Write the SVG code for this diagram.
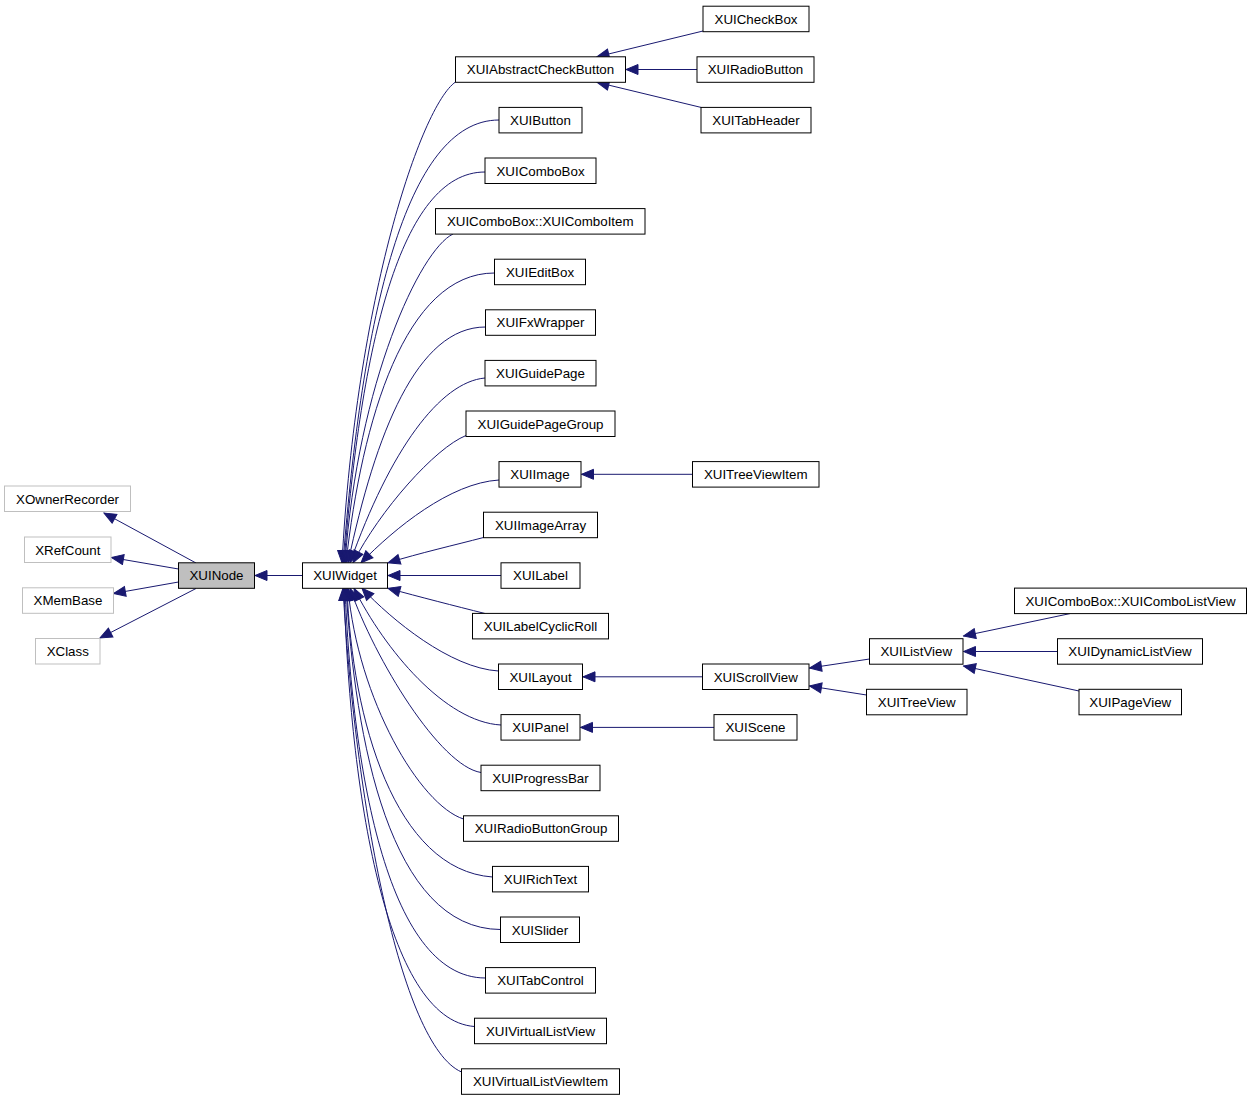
<svg xmlns="http://www.w3.org/2000/svg" width="1252" height="1101" viewBox="0 0 1252 1101">
<style>
.n rect{fill:#fff;stroke:#000;stroke-width:1}
.g rect{fill:#fff;stroke:#bfbfbf;stroke-width:1}
.c rect{fill:#bfbfbf;stroke:#000;stroke-width:1}
text{font-family:"Liberation Sans",Arial,Helvetica,sans-serif;font-size:13.33px;text-anchor:middle;fill:#000}
#edges path{fill:none;stroke:#191970;stroke-width:1;marker-end:url(#a)}
</style>
<defs>
<marker id="a" markerUnits="userSpaceOnUse" markerWidth="14" markerHeight="12" viewBox="-1 -1 14 12" refX="12" refY="5" orient="auto">
<path d="M0,0 L12,5 L0,10 z" fill="#191970" stroke="#191970"/>
</marker>
</defs>
<rect width="1252" height="1101" fill="#fff"/>
<g id="edges">
<path d="M196,563 L104,513"/>
<path d="M178.5,569 L111.5,557.5"/>
<path d="M178.5,582 L113.5,593.5"/>
<path d="M196,588.5 L100,638"/>
<path d="M302.5,575.5 L255,575.5"/>
<path d="M455.5,82 C421,106 356,298 342,562.8"/>
<path d="M499,120 C405,120 362,319 343,562.8"/>
<path d="M485,172 C400,172 361,347 344,562.8"/>
<path d="M453,234 C420,250 358,382 345,562.8"/>
<path d="M494.5,273 C405,273 362,420 346,562.8"/>
<path d="M485.5,327 C417,327 375.6,433 348,562.8"/>
<path d="M485,378 C440,382 390,450 350,562.8"/>
<path d="M466,435.5 C435,448 380,510 353,562.8"/>
<path d="M499,480 C450,483 395,528 361,562.8"/>
<path d="M483.5,537.5 C455,545 420,553 388,562.8"/>
<path d="M501,575.5 L388,575.5"/>
<path d="M485,613.5 C455,606 420,597 388,588.3"/>
<path d="M498.5,671 C450,668 392,620 362,588.3"/>
<path d="M501,725 C445,722 385,650 354,588.3"/>
<path d="M481,772.5 C440,766 375,660 350,588.3"/>
<path d="M463.5,819 C420,805 358,700 348,588.3"/>
<path d="M492.5,877 C395,870 352,720 347,588.3"/>
<path d="M500.5,929.5 C390,929 355,740 346,588.3"/>
<path d="M485.5,978 C385,978 352,760 345,588.3"/>
<path d="M474.5,1026.5 C385,1020 350,790 344,588.3"/>
<path d="M461.5,1072 C400,1045 355,800 343,588.3"/>
<path d="M703,31 L597,56.8"/>
<path d="M697,69.5 L626,69.5"/>
<path d="M701,107.4 L597,82.3"/>
<path d="M692.5,474.3 L581.5,474.3"/>
<path d="M702.5,676.8 L583,676.8"/>
<path d="M714,727.4 L580.5,727.4"/>
<path d="M869.5,659 L809.5,668"/>
<path d="M866.5,695 L809.5,686"/>
<path d="M1070,613.6 L963.5,636"/>
<path d="M1057.5,651.5 L963.5,651.5"/>
<path d="M1079,691 L963.5,666"/>
</g>
<g id="XOwnerRecorder" class="g"><rect x="4.5" y="486" width="126" height="25.5"/><text x="67.5" y="503.5">XOwnerRecorder</text></g>
<g id="XRefCount" class="g"><rect x="24.5" y="537" width="86.5" height="25.5"/><text x="67.75" y="554.5">XRefCount</text></g>
<g id="XMemBase" class="g"><rect x="22.5" y="587.8" width="91" height="25.5"/><text x="68" y="605.3">XMemBase</text></g>
<g id="XClass" class="g"><rect x="35.5" y="638.5" width="64.5" height="25.5"/><text x="67.75" y="656">XClass</text></g>
<g id="XUINode" class="c"><rect x="178.5" y="562.8" width="76" height="25.5"/><text x="216.5" y="580.3">XUINode</text></g>
<g id="XUIWidget" class="n"><rect x="302.5" y="562.8" width="85" height="25.5"/><text x="345" y="580.3">XUIWidget</text></g>
<g id="XUIAbstractCheckButton" class="n"><rect x="455.5" y="56.8" width="170" height="25.5"/><text x="540.5" y="74.3">XUIAbstractCheckButton</text></g>
<g id="XUIButton" class="n"><rect x="499" y="107.4" width="83" height="25.5"/><text x="540.5" y="124.9">XUIButton</text></g>
<g id="XUIComboBox" class="n"><rect x="485" y="158" width="111" height="25.5"/><text x="540.5" y="175.5">XUIComboBox</text></g>
<g id="XUIComboItem" class="n"><rect x="435.5" y="208.6" width="209.5" height="25.5"/><text x="540.25" y="226.1">XUIComboBox::XUIComboItem</text></g>
<g id="XUIEditBox" class="n"><rect x="494.5" y="259.2" width="91" height="25.5"/><text x="540" y="276.7">XUIEditBox</text></g>
<g id="XUIFxWrapper" class="n"><rect x="485.5" y="309.8" width="110" height="25.5"/><text x="540.5" y="327.3">XUIFxWrapper</text></g>
<g id="XUIGuidePage" class="n"><rect x="485" y="360.4" width="111" height="25.5"/><text x="540.5" y="377.9">XUIGuidePage</text></g>
<g id="XUIGuidePageGroup" class="n"><rect x="466" y="411" width="149" height="25.5"/><text x="540.5" y="428.5">XUIGuidePageGroup</text></g>
<g id="XUIImage" class="n"><rect x="499" y="461.6" width="82" height="25.5"/><text x="540" y="479.1">XUIImage</text></g>
<g id="XUIImageArray" class="n"><rect x="483.5" y="512.2" width="114" height="25.5"/><text x="540.5" y="529.7">XUIImageArray</text></g>
<g id="XUILabel" class="n"><rect x="501" y="562.8" width="79" height="25.5"/><text x="540.5" y="580.3">XUILabel</text></g>
<g id="XUILabelCyclicRoll" class="n"><rect x="472.5" y="613.4" width="136" height="25.5"/><text x="540.5" y="630.9">XUILabelCyclicRoll</text></g>
<g id="XUILayout" class="n"><rect x="498.5" y="664" width="84" height="25.5"/><text x="540.5" y="681.5">XUILayout</text></g>
<g id="XUIPanel" class="n"><rect x="501" y="714.6" width="79" height="25.5"/><text x="540.5" y="732.1">XUIPanel</text></g>
<g id="XUIProgressBar" class="n"><rect x="481" y="765.2" width="119" height="25.5"/><text x="540.5" y="782.7">XUIProgressBar</text></g>
<g id="XUIRadioButtonGroup" class="n"><rect x="463.5" y="815.8" width="155" height="25.5"/><text x="541" y="833.3">XUIRadioButtonGroup</text></g>
<g id="XUIRichText" class="n"><rect x="492.5" y="866.4" width="96" height="25.5"/><text x="540.5" y="883.9">XUIRichText</text></g>
<g id="XUISlider" class="n"><rect x="500.5" y="917" width="79" height="25.5"/><text x="540" y="934.5">XUISlider</text></g>
<g id="XUITabControl" class="n"><rect x="485.5" y="967.6" width="110" height="25.5"/><text x="540.5" y="985.1">XUITabControl</text></g>
<g id="XUIVirtualListView" class="n"><rect x="474.5" y="1018.2" width="132" height="25.5"/><text x="540.5" y="1035.7">XUIVirtualListView</text></g>
<g id="XUIVirtualListViewItem" class="n"><rect x="461.5" y="1068.8" width="158" height="25.5"/><text x="540.5" y="1086.3">XUIVirtualListViewItem</text></g>
<g id="XUICheckBox" class="n"><rect x="703" y="6.2" width="106" height="25.5"/><text x="756" y="23.7">XUICheckBox</text></g>
<g id="XUIRadioButton" class="n"><rect x="697" y="56.8" width="117" height="25.5"/><text x="755.5" y="74.3">XUIRadioButton</text></g>
<g id="XUITabHeader" class="n"><rect x="701" y="107.4" width="110" height="25.5"/><text x="756" y="124.9">XUITabHeader</text></g>
<g id="XUITreeViewItem" class="n"><rect x="692.5" y="461.6" width="126.5" height="25.5"/><text x="755.75" y="479.1">XUITreeViewItem</text></g>
<g id="XUIScrollView" class="n"><rect x="702.5" y="664" width="106.5" height="25.5"/><text x="755.75" y="681.5">XUIScrollView</text></g>
<g id="XUIScene" class="n"><rect x="714" y="714.6" width="83" height="25.5"/><text x="755.5" y="732.1">XUIScene</text></g>
<g id="XUIListView" class="n"><rect x="869.5" y="638.7" width="93.5" height="25.5"/><text x="916.25" y="656.2">XUIListView</text></g>
<g id="XUITreeView" class="n"><rect x="866.5" y="689.3" width="100.5" height="25.5"/><text x="916.75" y="706.8">XUITreeView</text></g>
<g id="XUIComboListView" class="n"><rect x="1014.5" y="588.1" width="232" height="25.5"/><text x="1130.5" y="605.6">XUIComboBox::XUIComboListView</text></g>
<g id="XUIDynamicListView" class="n"><rect x="1057.5" y="638.7" width="145" height="25.5"/><text x="1130" y="656.2">XUIDynamicListView</text></g>
<g id="XUIPageView" class="n"><rect x="1079" y="689.3" width="102.5" height="25.5"/><text x="1130.25" y="706.8">XUIPageView</text></g>
</svg>
